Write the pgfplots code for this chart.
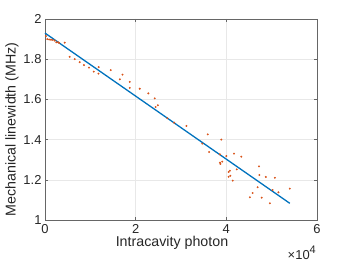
\documentclass[border=0pt]{standalone}
\usepackage{pgfplots}
\pgfplotsset{compat=1.18}
\usepackage{fontspec}
\setmainfont{Liberation Sans}
\usetikzlibrary{calc}
\definecolor{mblue}{rgb}{0,0.447,0.741}
\definecolor{morange}{rgb}{0.85,0.325,0.098}
\begin{document}
\begin{tikzpicture}
\begin{axis}[
  scale only axis, width=272bp, height=201bp,
  xmin=0, xmax=60000, ymin=1, ymax=2,
  xtick={0,20000,40000,60000},
  xticklabels={0,2,4,6},
  scaled x ticks=false,
  ytick={1,1.2,1.4,1.6,1.8,2},
  yticklabels={1,1.2,1.4,1.6,1.8,2},
  clip=false,
  grid=major, major grid style={black!9, line width=0.5pt},
  axis line style={black!60, line width=0.5pt},
  tick style={black!60, line width=0.5pt},
  tick align=inside, major tick length=3bp,
  ticklabel style={font=\fontsize{13}{13}\selectfont, text=black!85},
  xticklabel style={yshift=-1bp},
  xlabel={Intracavity photon}, ylabel={Mechanical linewidth (MHz)},
  xlabel style={font=\fontsize{14.3}{15}\selectfont, text=black!85, xshift=-9bp, yshift=4bp},
  ylabel style={font=\fontsize{14.3}{15}\selectfont, text=black!85, xshift=-10bp, yshift=-2bp},
  /pgf/number format/assume math mode=true,
]
\addplot[only marks, mark=*, mark size=0.75bp, morange, mark options={draw=none, fill=morange}] coordinates {
(200,1.915) (500,1.900) (900,1.898) (1300,1.897) (1600,1.896) (2100,1.893)
(2500,1.884) (2900,1.884) (3100,1.881) (4350,1.882)
(5450,1.812) (6560,1.800) (7660,1.785) (8600,1.771) (9700,1.758)
(10750,1.738) (11850,1.761) (11800,1.728) (14500,1.746) (16500,1.700)
(17100,1.723) (18700,1.687) (18700,1.657) (20900,1.653) (22800,1.630)
(24200,1.605) (24900,1.571) (24400,1.562) (27000,1.506) (28500,1.484)
(31200,1.468) (35900,1.426) (34700,1.380) (36200,1.338) (38900,1.400)
(38600,1.327) (40000,1.318) (41700,1.330) (43300,1.315) (38600,1.285)
(39100,1.290) (38700,1.279) (40800,1.245) (40500,1.239) (40900,1.220)
(40500,1.215) (41400,1.196) (42300,1.252) (47200,1.267) (47300,1.224)
(48700,1.214) (50700,1.210) (46900,1.163) (45800,1.134) (45200,1.113)
(47800,1.111) (49600,1.083) (50200,1.149) (51500,1.138) (54000,1.156)
};
\addplot[mblue, line width=1.3pt] coordinates {(0,1.930) (54000,1.083)};
\node[anchor=north east, font=\fontsize{13}{13}\selectfont, text=black!85, inner sep=0pt] at ($(rel axis cs:1,0)+(-1bp,-26bp)$) {×10\raisebox{0.8ex}{\fontsize{11}{11}\selectfont 4}};
\end{axis}
\path ($(current axis.south west)+(-45bp,-43bp)$) rectangle ($(current axis.north east)+(33bp,19bp)$);
\end{tikzpicture}
\end{document}
